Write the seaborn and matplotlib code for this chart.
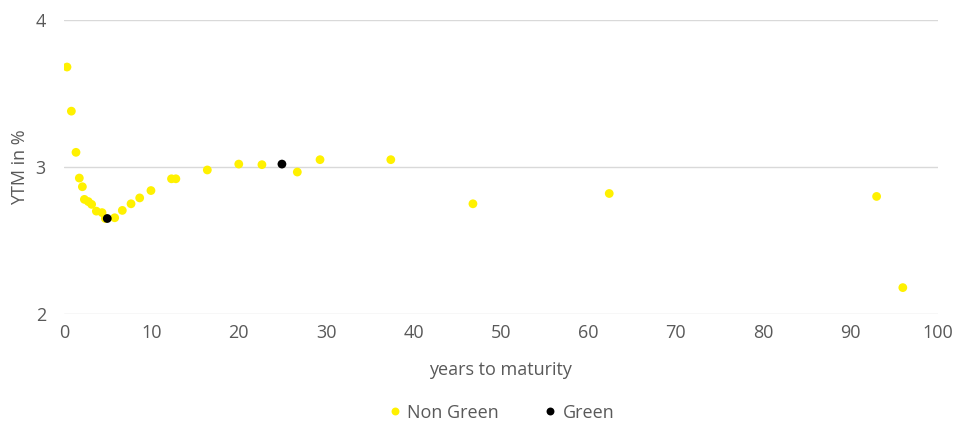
import pandas as pd
import matplotlib.pyplot as plt
import seaborn as sns

# values
non_green_years = [0.34, 0.84, 1.37, 1.75, 2.1, 2.33, 2.78, 3.16, 3.7, 4.35, 4.73,
                   5.8, 6.67, 7.67, 8.66, 9.95, 12.3, 12.8, 16.4, 20.0, 22.65,
                   26.7, 29.3, 37.4, 46.8, 62.4, 93.0, 96.0]
non_green_ytm = [3.68, 3.38, 3.10, 2.925, 2.866, 2.78, 2.765, 2.746, 2.70, 2.69, 2.65,
                 2.655, 2.705, 2.75, 2.79, 2.84, 2.92, 2.92, 2.98, 3.02, 3.016,
                 2.966, 3.05, 3.05, 2.75, 2.82, 2.80, 2.18]
green_years = [4.95, 24.94]
green_ytm = [2.65, 3.02]

df = pd.DataFrame({
    "years": non_green_years + green_years,
    "ytm": non_green_ytm + green_ytm,
    "type": ["Non Green"] * len(non_green_years) + ["Green"] * len(green_years),
})

sns.set_theme(style="white")
plt.rcParams['font.family'] = ['Open Sans', 'DejaVu Sans']
grey = "#595959"

fig = plt.figure(figsize=(9.57, 4.25), dpi=100)
ax = fig.add_axes([0.0669, 0.261, 0.913, 0.692])

sns.scatterplot(data=df, x="years", y="ytm", hue="type",
                palette={"Non Green": "#FFF100", "Green": "#000000"},
                s=40, linewidth=0, ax=ax, zorder=3)

ax.set_xlim(0, 100)
ax.set_ylim(2, 4)
ax.set_xticks(range(0, 101, 10))
ax.set_yticks([2, 3, 4])
ax.grid(axis="y", color="#d9d9d9", linewidth=1)
ax.set_axisbelow(True)
for s in ax.spines.values():
    s.set_visible(False)
ax.tick_params(axis="both", length=0, labelsize=13, labelcolor=grey)
ax.tick_params(axis="y", pad=13)
ax.tick_params(axis="x", pad=7)
ax.set_xlabel("years to maturity", fontsize=13, color=grey, labelpad=14)
ax.set_ylabel("YTM in %", fontsize=13, color=grey, labelpad=5)

ax.legend(loc="upper center", bbox_to_anchor=(0.5, -0.268), ncol=2, frameon=False,
          fontsize=13, labelcolor=grey, handlelength=0.8, handletextpad=0.3,
          columnspacing=2.4, markerscale=0.9, borderaxespad=0.2)

fig.savefig("out.png", dpi=100)
